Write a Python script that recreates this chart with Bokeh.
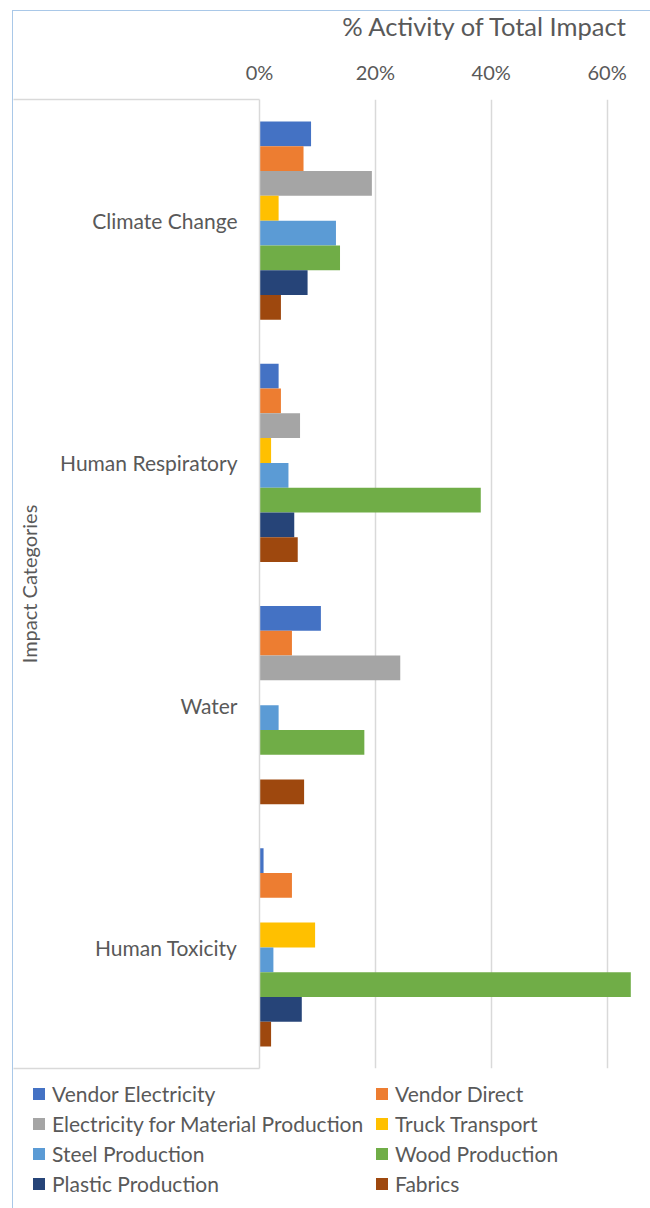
from bokeh.plotting import figure
from bokeh.layouts import column
from bokeh.models import (ColumnDataSource, Range1d, FixedTicker, NumeralTickFormatter,
                          Legend, LegendItem, Label)
from bokeh.embed import file_html
from bokeh.resources import INLINE

categories = ["Climate Change", "Human Respiratory", "Water", "Human Toxicity"]
series = ["Vendor Electricity", "Vendor Direct", "Electricity for Material Production",
          "Truck Transport", "Steel Production", "Wood Production",
          "Plastic Production", "Fabrics"]
colors = ["#4472C4", "#ED7D31", "#A5A5A5", "#FFC000",
          "#5B9BD5", "#70AD47", "#264478", "#9E480E"]

# share of each activity in the category's total impact, in percent
vendor_electricity = [8.9, 3.3, 10.6, 0.7]
vendor_direct = [7.6, 3.7, 5.6, 5.6]
electricity_material = [19.4, 7.0, 24.3, 0.0]
truck_transport = [3.3, 2.0, 0.0, 9.6]
steel_production = [13.2, 5.0, 3.3, 2.4]
wood_production = [13.9, 38.2, 18.1, 64.1]
plastic_production = [8.3, 6.0, 0.0, 7.3]
fabrics = [3.7, 6.6, 7.7, 2.0]

tick_values = [0, 0.2, 0.4, 0.6]

values = [vendor_electricity, vendor_direct, electricity_material, truck_transport,
          steel_production, wood_production, plastic_production, fabrics]

FONT = "Lato"
TEXT = "#595959"
GRID = "#D9D9D9"
FRAME_BLUE = "#A9C8E8"
W = 637
LEFT = 246

n_cat = len(categories)
n_ser = len(series)
# first category at the top; each category band is one unit tall
centers = [n_cat - 0.5 - i for i in range(n_cat)]
bar_h = 0.1023


def bare(height, y_range=(0, 1)):
    f = figure(width=W, height=height, x_range=Range1d(0, 1), y_range=Range1d(*y_range),
               x_axis_type=None, y_axis_type=None, frame_align=False,
               output_backend="svg", toolbar_location=None, min_border=0)
    f.outline_line_color = None
    f.background_fill_color = "white"
    f.border_fill_color = "white"
    return f


# header with the value-axis title
header = bare(40)
header.add_layout(Label(x=W - 22, y=26, x_units="screen", y_units="screen",
                        text="% Activity of Total Impact", text_align="right",
                        text_baseline="middle", text_font=FONT,
                        text_font_size="25.5px", text_color=TEXT))

p = figure(width=W, height=1027,
           y_range=Range1d(0, n_cat), x_range=Range1d(0, 0.675),
           x_axis_location="above", frame_align=False,
           output_backend="svg", toolbar_location=None,
           min_border_left=LEFT, min_border_right=0,
           min_border_top=48, min_border_bottom=10)
p.outline_line_color = None
p.background_fill_color = "white"
p.border_fill_color = "white"

# legend strip below the chart; its view sits away from the bars so only the key shows
lf = bare(130, y_range=(n_cat + 1, n_cat + 2))

items = []
for j, (name, vals, col) in enumerate(zip(series, values, colors)):
    ys = [c + ((n_ser - 1) / 2 - j) * bar_h for c in centers]
    src = ColumnDataSource(dict(y=ys, share=[v / 100 for v in vals]))
    p.hbar(y="y", left=0, right="share", height=bar_h, source=src,
           fill_color=col, line_color=None)
    key = lf.hbar(y="y", left=0, right="share", height=bar_h, source=src,
                  fill_color=col, line_color=None)
    items.append(LegendItem(label=name, renderers=[key]))

# value axis along the top
xa = p.xaxis[0]
xa.ticker = FixedTicker(ticks=tick_values)
xa.formatter = NumeralTickFormatter(format="0%")
xa.axis_line_color = None
xa.major_tick_out = 0
xa.major_tick_in = 0
xa.minor_tick_out = 0
xa.minor_tick_in = 0
xa.major_label_standoff = 16
xa.major_label_text_font = FONT
xa.major_label_text_font_size = "20px"
xa.major_label_text_color = TEXT

p.xgrid.grid_line_color = GRID
p.xgrid.grid_line_width = 1.5
p.ygrid.grid_line_color = None

# category axis: labels at band centres, long minor ticks close the label box
ya = p.yaxis[0]
ya.ticker = FixedTicker(ticks=centers, minor_ticks=[0, n_cat])
ya.major_label_overrides = {c: name for c, name in zip(centers, categories)}
ya.axis_line_color = GRID
ya.axis_line_width = 1.5
ya.major_tick_out = 0
ya.major_tick_in = 0
ya.minor_tick_in = 0
ya.minor_tick_out = LEFT
ya.minor_tick_line_color = GRID
ya.minor_tick_line_width = 1.5
ya.major_label_standoff = 22 - LEFT
ya.major_label_text_font = FONT
ya.major_label_text_font_size = "21px"
ya.major_label_text_color = TEXT
ya.axis_label = "Impact Categories"
ya.axis_label_standoff = 16
ya.axis_label_text_font = FONT
ya.axis_label_text_font_size = "20px"
ya.axis_label_text_font_style = "normal"
ya.axis_label_text_color = TEXT

legend = Legend(items=items, ncols=2, orientation="horizontal",
                location=(18, 12), glyph_width=15, glyph_height=15,
                label_standoff=6, spacing=5, label_height=25, label_width=317,
                padding=0, margin=0,
                label_text_font=FONT, label_text_font_size="21px",
                label_text_color=TEXT, border_line_color=None,
                background_fill_alpha=0)
lf.add_layout(legend)

layout = column(header, p, lf, spacing=0)
layout.margin = (10, 0, 0, 12)
layout.styles = {"border-top": f"1.5px solid {FRAME_BLUE}",
                 "border-left": f"1.5px solid {FRAME_BLUE}"}

open("out.html", "w").write(file_html(layout, INLINE))
